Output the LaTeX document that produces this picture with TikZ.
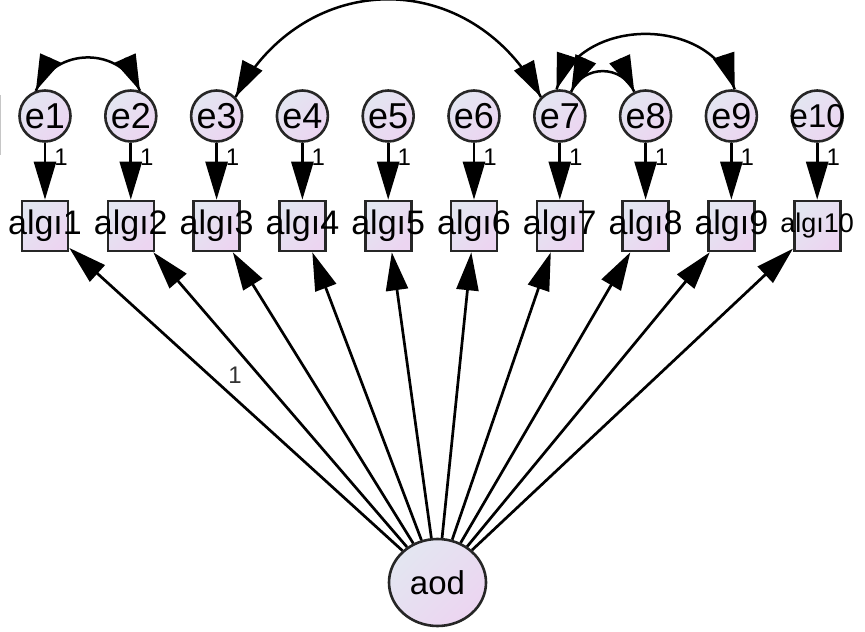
\documentclass[tikz,border=0pt]{standalone}
\usepackage{fontspec}
\setmainfont{Liberation Sans}
\usetikzlibrary{arrows.meta,shapes.geometric}
\definecolor{shadeA}{HTML}{E3E6F1}
\definecolor{shadeB}{HTML}{ECD5F1}
\begin{document}
\begin{tikzpicture}[x=1pt,y=1pt,
  pathline/.style={line width=2.7pt, draw=black, -{Triangle[length=38pt,width=22pt]}},
  covarc/.style={line width=2.5pt, draw=black},
  covhead/.style={line width=2.5pt, draw=black, -{Triangle[length=36pt,width=22pt]}},
  fillshade/.style={draw=black!85, line width=2.6pt, top color=shadeA,
    bottom color=shadeB, shading angle=45},
  errnode/.style={fillshade, circle, minimum size=51pt, inner sep=0pt},
  obsnode/.style={fillshade, rectangle, minimum width=46pt, minimum height=50pt, inner sep=0pt},
  latnode/.style={fillshade, ellipse, minimum width=97pt, minimum height=87pt, inner sep=0pt},
  lbl/.style={font=\fontsize{#1}{#1}\selectfont, inner sep=0pt, text=black},
  weight/.style={font=\fontsize{24}{24}\selectfont, inner sep=0pt, text=black},
]
\useasboundingbox (0,0) rectangle (865,632);

% faint frame remnant at the left edge
\draw[gray!45, line width=1.2pt] (0.6,537) -- (0.6,477);

% latent factor
\node[latnode, label={[lbl=33]center:aod}] (aod) at (437.5,49.5) {};

% error terms, indicators and their paths
\foreach \i/\fe/\fa in {1/36/34,2/36/34,3/36/34,4/36/34,5/36/34,6/36/34,7/36/34,8/36/34,9/36/34,10/33/27} {
  \pgfmathsetmacro\xx{45+85.8*(\i-1)}
  \node[errnode, label={[lbl=\fe]center:e\i}] (e\i) at (\xx,516) {};
  \node[obsnode, label={[lbl=\fa]center:algı\i}] (a\i) at (\xx,406) {};
  \draw[pathline] (e\i) -- (a\i);
  \node[weight] (w\i) at (\xx+16,474.5) {1};
  \draw[pathline] (aod) -- (a\i);
}

% fixed loading of the first indicator
\node[weight, text=black!80] (l1) at (235,257) {1};

% covariances between error terms: arcs, then heads laid along the end tangents
\draw[covarc] (e1.110) to[out=66,in=114,looseness=1.2] (e2.70);
\draw[covarc] (e3.45) to[out=62,in=118,looseness=1.24] (e7.135);
\draw[covarc] (e7.97) to[out=72,in=108,looseness=1.12] (e9.83);
\draw[covarc] (e7.65) to[out=66,in=114,looseness=1.22] (e8.115);

\draw[covhead] (e1.110) ++(66:36) -- (e1.110);
\draw[covhead] (e2.70) ++(114:36) -- (e2.70);
\draw[covhead] (e3.45) ++(62:36) -- (e3.45);
\draw[covhead] (e7.135) ++(118:36) -- (e7.135);
\draw[covhead] (e7.97) ++(72:36) -- (e7.97);
\draw[covhead] (e9.83) ++(108:36) -- (e9.83);
\draw[covhead] (e7.65) ++(66:36) -- (e7.65);
\draw[covhead] (e8.115) ++(114:36) -- (e8.115);
\end{tikzpicture}
\end{document}
